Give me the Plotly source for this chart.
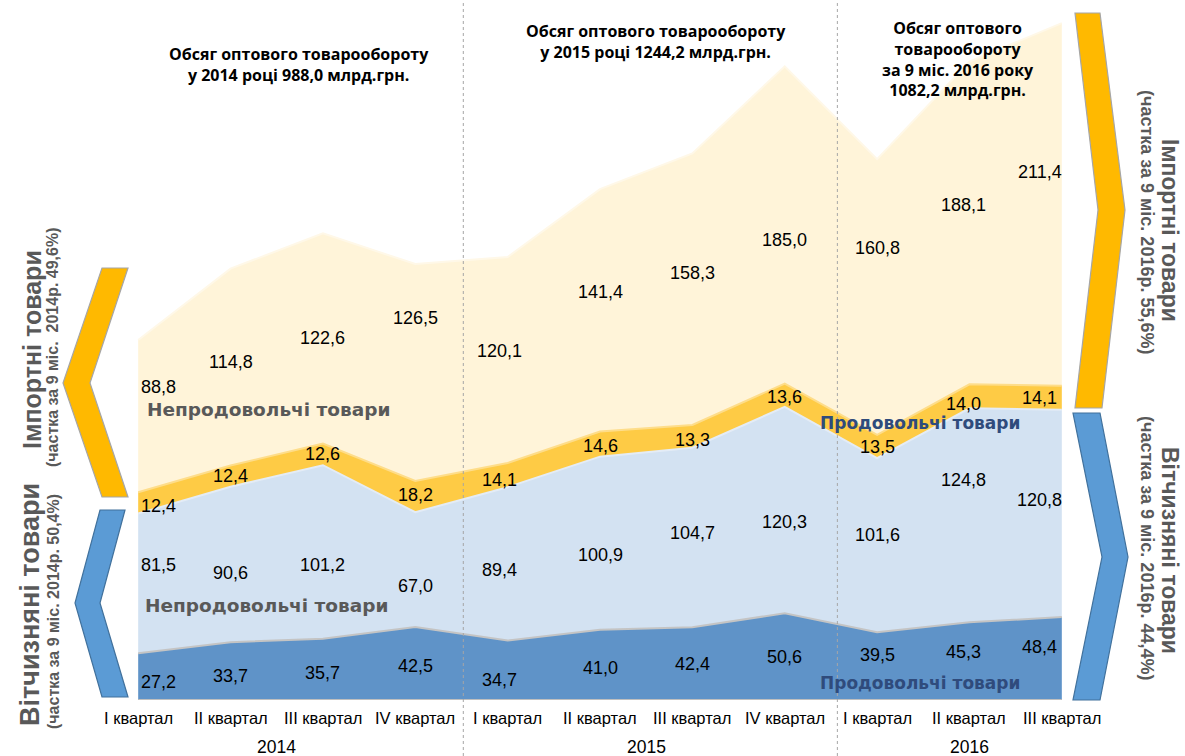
import plotly.graph_objects as go

# ---------------- data ----------------
quarters = ["I квартал", "II квартал", "III квартал", "IV квартал",
            "I квартал", "II квартал", "III квартал", "IV квартал",
            "I квартал", "II квартал", "III квартал"]
years = ["2014", "2015", "2016"]
year_centers = [1.5, 5.5, 9.0]
dom_food = [27.2, 33.7, 35.7, 42.5, 34.7, 41.0, 42.4, 50.6, 39.5, 45.3, 48.4]
dom_nonfood = [81.5, 90.6, 101.2, 67.0, 89.4, 100.9, 104.7, 120.3, 101.6, 124.8, 120.8]
imp_food = [12.4, 12.4, 12.6, 18.2, 14.1, 14.6, 13.3, 13.6, 13.5, 14.0, 14.1]
imp_nonfood = [88.8, 114.8, 122.6, 126.5, 120.1, 141.4, 158.3, 185.0, 160.8, 188.1, 211.4]

titles = ["Обсяг оптового товарообороту<br>у 2014 році 988,0 млрд.грн.",
          "Обсяг оптового товарообороту<br>у 2015 році 1244,2 млрд.грн.",
          "Обсяг оптового<br>товарообороту<br>за 9 міс. 2016 року<br>1082,2 млрд.грн."]

x = list(range(len(quarters)))

# ---------------- geometry helpers (page pixels -> paper) ----------------
W, H = 1185, 756
ML, MR, MT, MB = 92, 77, 14, 56
PW, PH = W - ML - MR, H - MT - MB


def px(v):
    return (v - ML) / PW


def py(v):
    return (H - MB - v) / PH


fig = go.Figure()

layers = [
    (dom_food, "#5f93c8", "#c4c4c4"),
    (dom_nonfood, "#d3e2f2", "#e4ecf6"),
    (imp_food, "#fecb45", "#fedd8a"),
    (imp_nonfood, "#fff4d9", "#fff8e8"),
]
for vals, fc, lc in layers:
    fig.add_trace(go.Scatter(x=x, y=vals, stackgroup="one", mode="lines",
                             line=dict(color=lc, width=2), fillcolor=fc,
                             hoverinfo="skip", showlegend=False))

# ---------------- value labels ----------------
yshifts = [
    [-5, -5, -4, -2, -10, -3, 0, 0, 11, 9, 12],
    [18, -8, -13, -16, -6, -12, 5, -12, 10, 35, 13],
    [-3, 0, 0, 2, -5, -2, -4, -2, -1, -8, 0],
    [29, 5, 0, 55, 9, 18, 16, -15, 49, 18, 32],
]
xshifts = [20, 0, 0, 0, -8, 0, 0, 0, 0, -6, -22]
annotations = []
base = [0.0] * len(x)
for li, (vals, _, _) in enumerate(layers):
    for i, v in enumerate(vals):
        annotations.append(dict(
            x=i, y=base[i] + v / 2, xref="x", yref="y",
            text=f"{v:.1f}".replace(".", ","), showarrow=False,
            xanchor="center", yanchor="middle",
            xshift=xshifts[i], yshift=yshifts[li][i],
            font=dict(family="Liberation Sans, Arial", size=18, color="#000000")))
        base[i] += v

# quarter / year labels
for i, q in enumerate(quarters):
    annotations.append(dict(x=i, y=py(718), xref="x", yref="paper", text=q,
                            showarrow=False, xanchor="center", yanchor="middle",
                            font=dict(family="Liberation Sans, Arial", size=16.5, color="#000000")))
for yc, yr in zip(year_centers, years):
    annotations.append(dict(x=yc, y=py(747), xref="x", yref="paper", text=yr,
                            showarrow=False, xanchor="center", yanchor="middle",
                            font=dict(family="Liberation Sans, Arial", size=17.5, color="#000000")))

# titles
title_pos = [(299, 65), (656, 41), (958, 59)]
for t, (tx, ty) in zip(titles, title_pos):
    annotations.append(dict(x=px(tx), y=py(ty), xref="paper", yref="paper", text=f"<b>{t}</b>",
                            showarrow=False, align="center", xanchor="center", yanchor="middle",
                            font=dict(family="Open Sans", size=16, color="#000000")))

# category labels inside areas
cat_labels = [
    ("Непродовольчі товари", 268, 410, "#595959", 18.5),
    ("Непродовольчі товари", 266, 605, "#595959", 18.5),
    ("Продовольчі товари", 920, 423, "#2f4b7c", 17),
    ("Продовольчі товари", 920, 683, "#2f4b7c", 17),
]
for t, tx, ty, c, sz in cat_labels:
    annotations.append(dict(x=px(tx), y=py(ty), xref="paper", yref="paper", text=f"<b>{t}</b>",
                            showarrow=False, xanchor="center", yanchor="middle",
                            font=dict(family="DejaVu Sans", size=sz, color=c)))

# rotated side labels
side_labels = [
    ("<b>Імпортні товари</b>", 32, 350, -90, 25),
    ("<b>(частка за 9 міс.  2014р. 49,6%)</b>", 53, 347, -90, 16),
    ("<b>Вітчизняні товари</b>", 30, 605, -90, 27),
    ("<b>(частка за 9 міс. 2014р. 50,4%)</b>", 53, 612, -90, 16),
    ("<b>Імпортні товари</b>", 1170, 230, 90, 23),
    ("<b>(частка за 9 міс. 2016р. 55,6%)</b>", 1147, 222, 90, 18),
    ("<b>Вітчизняні товари</b>", 1170, 550, 90, 23),
    ("<b>(частка за 9 міс. 2016р. 44,4%)</b>", 1147, 548, 90, 18),
]
for t, tx, ty, ang, sz in side_labels:
    annotations.append(dict(x=px(tx), y=py(ty), xref="paper", yref="paper", text=t,
                            showarrow=False, textangle=ang, xanchor="center", yanchor="middle",
                            font=dict(family="Liberation Sans, Arial", size=sz, color="#595959")))

# ---------------- shapes ----------------
def poly(points):
    return "M " + " L ".join(f"{px(a):.5f},{py(b):.5f}" for a, b in points) + " Z"


shapes = [
    # left chevrons
    dict(type="path", xref="paper", yref="paper",
         path=poly([(102, 268), (128, 268), (90, 383), (128, 497), (102, 497), (63, 383)]),
         fillcolor="#ffb900", line=dict(color="#a6a6a6", width=1.2), layer="above"),
    dict(type="path", xref="paper", yref="paper",
         path=poly([(100, 510), (125, 510), (100, 603), (128, 697), (102, 697), (75, 603)]),
         fillcolor="#5b9bd5", line=dict(color="#41719c", width=1.2), layer="above"),
    # right chevrons
    dict(type="path", xref="paper", yref="paper",
         path=poly([(1075, 13), (1100, 13), (1125, 210), (1102, 408), (1075, 408), (1098, 210)]),
         fillcolor="#ffb900", line=dict(color="#a6a6a6", width=1.2), layer="above"),
    dict(type="path", xref="paper", yref="paper",
         path=poly([(1073, 413), (1100, 413), (1128, 557), (1100, 700), (1073, 700), (1102, 557)]),
         fillcolor="#5b9bd5", line=dict(color="#41719c", width=1.2), layer="above"),
    # baseline
    dict(type="line", xref="x", yref="y", x0=0, x1=len(x) - 1, y0=0, y1=0,
         line=dict(color="#bfbfbf", width=2), layer="above"),
]
for sx in (3.52, 7.57):
    shapes.append(dict(type="line", xref="x", yref="paper", x0=sx, x1=sx, y0=py(H), y1=py(0),
                       line=dict(color="#a6a6a6", width=1, dash="dot"), layer="above"))

fig.update_layout(
    width=W, height=H,
    margin=dict(l=ML, r=MR, t=MT, b=MB),
    paper_bgcolor="white", plot_bgcolor="white",
    xaxis=dict(range=[-0.5, len(x) - 0.5], visible=False, fixedrange=True),
    yaxis=dict(range=[0, 400], visible=False, fixedrange=True),
    annotations=annotations,
    shapes=shapes,
    showlegend=False,
)

fig.write_html("out.html", config={"displayModeBar": False},
               post_script="document.body.style.margin='0';document.body.style.overflow='hidden';")
